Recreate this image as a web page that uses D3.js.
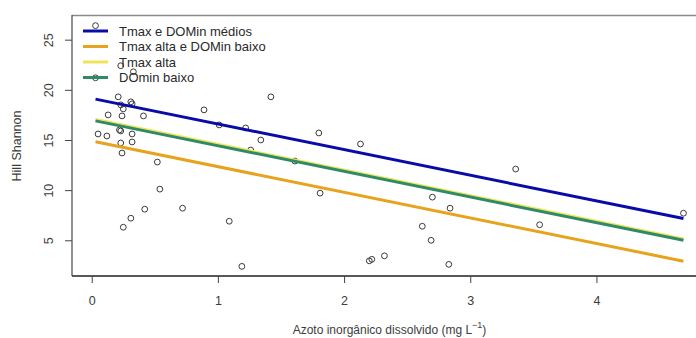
<!DOCTYPE html>
<html>
<head>
<meta charset="utf-8">
<script src="https://cdn.jsdelivr.net/npm/d3@7"></script>
<style>
  html, body { margin: 0; padding: 0; background: #fff; }
  svg { display: block; font-family: "Liberation Sans", Arial, sans-serif; }
</style>
</head>
<body>
<svg id="chart" width="696" height="338"></svg>
<script>
// Observed samples: dissolved inorganic nitrogen (mg/L) vs Hill Shannon diversity
const nitrogen = [
  0.03, 0.23, 0.33, 0.03, 0.21, 0.23, 0.25, 0.31, 0.32, 0.13,
  0.24, 0.41, 0.89, 1.42, 1.01, 1.22, 1.34, 1.80, 0.05, 0.12,
  0.22, 0.23, 0.32, 0.23, 0.32, 0.24, 1.26, 1.61, 0.52, 0.54,
  0.42, 0.31, 0.25, 0.72, 1.09, 1.19, 1.81, 2.13, 2.70, 2.62,
  2.69, 2.32, 2.20, 2.22, 2.84, 2.83, 3.36, 3.55, 4.69
];
const hillShannon = [
  26.4, 22.4, 21.8, 21.2, 19.3, 18.5, 18.1, 18.8, 18.6, 17.5,
  17.4, 17.4, 18.0, 19.3, 16.5, 16.2, 15.0, 15.7, 15.6, 15.4,
  16.0, 15.9, 15.6, 14.7, 14.8, 13.7, 14.0, 12.9, 12.8, 10.1,
  8.1, 7.2, 6.3, 8.2, 6.9, 2.4, 9.7, 14.6, 9.3, 6.4,
  5.0, 3.45, 2.95, 3.1, 8.2, 2.6, 12.1, 6.55, 7.7
];

// Fitted lines (common slope, scenario-specific intercepts)
const scenarios = ["Tmax e DOMin médios", "Tmax alta e DOMin baixo", "Tmax alta", "DOmin baixo"];
const intercepts = [19.15, 14.9, 17.12, 16.98];
const slope = -2.555;
const colors = ["#0a0aa8", "#e8a31c", "#ede45c", "#2e8b66"];
// drawing order: yellow sits under the green line
const drawOrder = [0, 1, 2, 3];

const xTicks = [0, 1, 2, 3, 4];
const yTicks = [5, 10, 15, 20, 25];

const svg = d3.select("#chart");
const plot = { left: 72, right: 707, top: 16, bottom: 276 };
const inkColor = "#3c3c3c";

// 4% padding on each side of the data range
function padded(values) {
  const [lo, hi] = d3.extent(values);
  const p = (hi - lo) * 0.04;
  return [lo - p, hi + p];
}
const x = d3.scaleLinear().domain(padded(nitrogen)).range([plot.left, plot.right]);
const y = d3.scaleLinear().domain(padded(hillShannon)).range([plot.bottom, plot.top]);

// frame: top edge light, left/bottom axis lines darker
svg.append("line")
  .attr("x1", plot.left).attr("x2", 696)
  .attr("y1", plot.top - 0.5).attr("y2", plot.top - 0.5)
  .attr("stroke", "#8a8a8a").attr("stroke-width", 1.3);
svg.append("line")
  .attr("x1", plot.left).attr("x2", plot.left)
  .attr("y1", plot.top - 1).attr("y2", plot.bottom)
  .attr("stroke", "#555").attr("stroke-width", 1.3);
svg.append("line")
  .attr("x1", plot.left).attr("x2", 696)
  .attr("y1", plot.bottom).attr("y2", plot.bottom)
  .attr("stroke", "#222").attr("stroke-width", 1.3);

// x axis
const xAxis = d3.axisBottom(x).tickValues(xTicks).tickSize(7).tickPadding(13).tickFormat(d3.format("d"));
const gx = svg.append("g").attr("transform", `translate(0,${plot.bottom})`).call(xAxis);
gx.select(".domain").remove();
gx.selectAll(".tick line").attr("stroke", "#444");
gx.selectAll(".tick text").attr("font-size", 12.5).attr("fill", inkColor)
  .attr("font-family", "Liberation Sans, Arial, sans-serif");

// y axis with rotated labels
const yAxis = d3.axisLeft(y).tickValues(yTicks).tickSize(7).tickFormat(d3.format("d"));
const gy = svg.append("g").attr("transform", `translate(${plot.left},0)`).call(yAxis);
gy.select(".domain").remove();
gy.selectAll(".tick line").attr("stroke", "#444");
gy.selectAll(".tick text")
  .attr("font-size", 12.5).attr("fill", inkColor)
  .attr("font-family", "Liberation Sans, Arial, sans-serif")
  .attr("x", null).attr("dy", null)
  .attr("text-anchor", "middle")
  .attr("transform", "translate(-23,0) rotate(-90)")
  .attr("dy", "0.35em");

// axis titles
svg.append("text")
  .attr("x", (plot.left + plot.right) / 2).attr("y", 334)
  .attr("text-anchor", "middle").attr("font-size", 12).attr("fill", inkColor)
  .call(t => {
    t.append("tspan").text("Azoto inorgânico dissolvido (mg L");
    t.append("tspan").attr("font-size", 9).attr("dy", -6).text("\u22121");
    t.append("tspan").attr("dy", 6).text(")");
  });
svg.append("text")
  .attr("transform", `translate(21,${(plot.top + plot.bottom) / 2}) rotate(-90)`)
  .attr("text-anchor", "middle").attr("font-size", 12.5).attr("fill", inkColor)
  .text("Hill Shannon");

// data points
const pts = nitrogen.map((d, i) => ({ n: d, h: hillShannon[i] }));
svg.append("g").selectAll("circle").data(pts).join("circle")
  .attr("cx", d => x(d.n)).attr("cy", d => y(d.h)).attr("r", 2.9)
  .attr("fill", "none").attr("stroke", "#3a3a3a").attr("stroke-width", 1);

// regression lines over the observed nitrogen range
const [xMin, xMax] = d3.extent(nitrogen);
const line = d3.line().x(d => x(d[0])).y(d => y(d[1]));
svg.append("g").selectAll("path").data(drawOrder).join("path")
  .attr("d", i => line([[xMin, intercepts[i] + slope * xMin], [xMax, intercepts[i] + slope * xMax]]))
  .attr("fill", "none").attr("stroke", i => colors[i]).attr("stroke-width", 3);

// legend
const lg = svg.append("g");
const rowY = d3.scaleLinear().domain([0, 3]).range([31, 77.5]);
scenarios.forEach((name, i) => {
  lg.append("line")
    .attr("x1", 83).attr("x2", 108).attr("y1", rowY(i)).attr("y2", rowY(i))
    .attr("stroke", colors[i]).attr("stroke-width", 3);
  lg.append("text")
    .attr("x", 119).attr("y", rowY(i)).attr("dy", "0.36em")
    .attr("font-size", 13).attr("fill", "#2a2a2a").text(name);
});
</script>
</body>
</html>
